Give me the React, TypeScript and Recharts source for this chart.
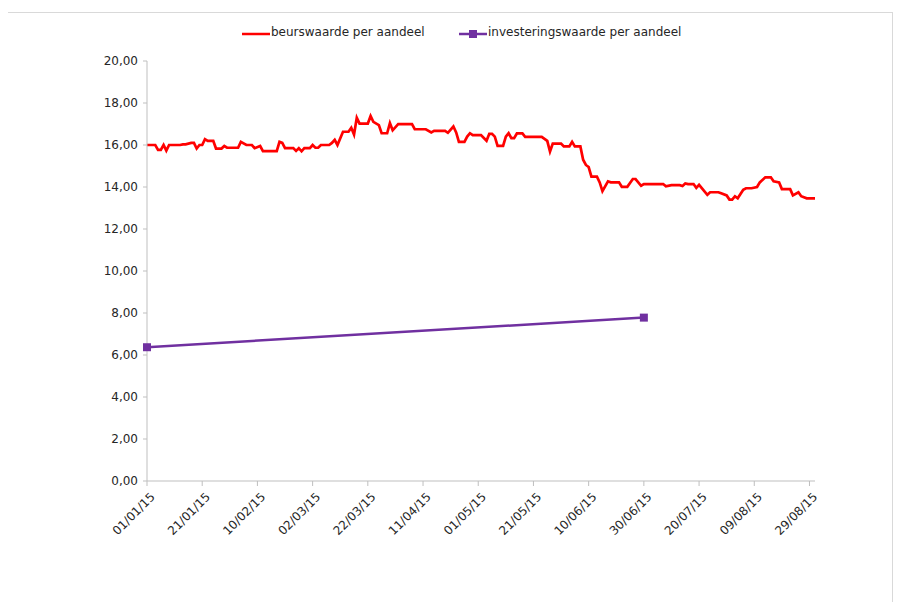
import React from "react";
import { LineChart, Line, XAxis, YAxis, Legend } from "recharts";

const datums = [
  "2015-01-01", "2015-01-04", "2015-01-05", "2015-01-06", "2015-01-07", "2015-01-08", "2015-01-09",
  "2015-01-13", "2015-01-14", "2015-01-15", "2015-01-17", "2015-01-18", "2015-01-19", "2015-01-20",
  "2015-01-21", "2015-01-22", "2015-01-23", "2015-01-25", "2015-01-26", "2015-01-28", "2015-01-29",
  "2015-01-30", "2015-02-03", "2015-02-04", "2015-02-06", "2015-02-08", "2015-02-09", "2015-02-11",
  "2015-02-12", "2015-02-17", "2015-02-18", "2015-02-19", "2015-02-20", "2015-02-23", "2015-02-24",
  "2015-02-25", "2015-02-26", "2015-02-27", "2015-03-01", "2015-03-02", "2015-03-03", "2015-03-04",
  "2015-03-05", "2015-03-08", "2015-03-09", "2015-03-10", "2015-03-11", "2015-03-13", "2015-03-15",
  "2015-03-16", "2015-03-17", "2015-03-18", "2015-03-19", "2015-03-22", "2015-03-23", "2015-03-24",
  "2015-03-26", "2015-03-27", "2015-03-29", "2015-03-30", "2015-03-31", "2015-04-02", "2015-04-07",
  "2015-04-08", "2015-04-12", "2015-04-14", "2015-04-15", "2015-04-19", "2015-04-20", "2015-04-22",
  "2015-04-23", "2015-04-24", "2015-04-26", "2015-04-27", "2015-04-28", "2015-04-29", "2015-05-02",
  "2015-05-04", "2015-05-05", "2015-05-06", "2015-05-07", "2015-05-08", "2015-05-10", "2015-05-11",
  "2015-05-12", "2015-05-13", "2015-05-14", "2015-05-15", "2015-05-17", "2015-05-18", "2015-05-24",
  "2015-05-26", "2015-05-27", "2015-05-28", "2015-05-31", "2015-06-01", "2015-06-03", "2015-06-04",
  "2015-06-05", "2015-06-07", "2015-06-08", "2015-06-09", "2015-06-10", "2015-06-11", "2015-06-13",
  "2015-06-14", "2015-06-15", "2015-06-17", "2015-06-18", "2015-06-21", "2015-06-22", "2015-06-24",
  "2015-06-26", "2015-06-27", "2015-06-29", "2015-06-30", "2015-07-07", "2015-07-08", "2015-07-10",
  "2015-07-13", "2015-07-14", "2015-07-15", "2015-07-16", "2015-07-18", "2015-07-19", "2015-07-20",
  "2015-07-23", "2015-07-24", "2015-07-27", "2015-07-28", "2015-07-30", "2015-07-31", "2015-08-01",
  "2015-08-02", "2015-08-03", "2015-08-05", "2015-08-06", "2015-08-08", "2015-08-10", "2015-08-11",
  "2015-08-13", "2015-08-15", "2015-08-16", "2015-08-18", "2015-08-19", "2015-08-22", "2015-08-23",
  "2015-08-25", "2015-08-26", "2015-08-28", "2015-08-31",
];

const beurswaarde = [
  16.0, 16.0, 15.77, 15.77, 16.0, 15.73, 16.0,
  16.0, 16.03, 16.03, 16.1, 16.1, 15.83, 16.0,
  16.0, 16.28, 16.2, 16.2, 15.83, 15.83, 15.95,
  15.87, 15.87, 16.15, 16.0, 16.0, 15.85, 15.95,
  15.71, 15.71, 16.15, 16.1, 15.85, 15.85, 15.72,
  15.85, 15.7, 15.85, 15.85, 16.0, 15.87, 15.87,
  16.0, 16.0, 16.1, 16.25, 16.0, 16.63, 16.63,
  16.82, 16.5, 17.3, 17.02, 17.02, 17.38, 17.1,
  16.95, 16.56, 16.56, 17.04, 16.7, 16.99, 16.99,
  16.75, 16.75, 16.6, 16.67, 16.67, 16.58, 16.88,
  16.6, 16.15, 16.15, 16.4, 16.56, 16.47, 16.47,
  16.2, 16.53, 16.53, 16.4, 15.96, 15.96, 16.4,
  16.56, 16.33, 16.33, 16.55, 16.55, 16.39, 16.39,
  16.2, 15.69, 16.07, 16.07, 15.93, 15.93, 16.15,
  15.93, 15.93, 15.3, 15.05, 14.95, 14.49, 14.49,
  14.22, 13.8, 14.27, 14.22, 14.22, 14.01, 14.01,
  14.38, 14.38, 14.06, 14.14, 14.14, 14.03, 14.09,
  14.09, 14.05, 14.17, 14.14, 14.14, 13.96, 14.1,
  13.63, 13.75, 13.75, 13.7, 13.6, 13.4, 13.4,
  13.56, 13.46, 13.87, 13.94, 13.94, 14.0, 14.22,
  14.46, 14.46, 14.27, 14.22, 13.9, 13.9, 13.6,
  13.75, 13.56, 13.46, 13.46,
];

// investeringswaarde per aandeel
const investDatums = ["2015-01-01", "2015-06-30"];
const investeringswaarde = [6.37, 7.78];

const xTickLabels = [
  "01/01/15", "21/01/15", "10/02/15", "02/03/15", "22/03/15", "11/04/15", "01/05/15",
  "21/05/15", "10/06/15", "30/06/15", "20/07/15", "09/08/15", "29/08/15",
];
const yTicks = [0, 2, 4, 6, 8, 10, 12, 14, 16, 18, 20];

const RED = "#ff0000";
const PURPLE = "#7030a0";
const AXIS = "#bfbfbf";
const FONT = "'DejaVu Sans', Verdana, sans-serif";

const START = Date.UTC(2015, 0, 1);
const isoToDay = (s: string) => {
  const [y, m, d] = s.split("-").map(Number);
  return Math.round((Date.UTC(y, m - 1, d) - START) / 86400000);
};
const labelToDay = (s: string) => {
  const [d, m] = s.split("/").map(Number);
  return Math.round((Date.UTC(2015, m - 1, d) - START) / 86400000);
};

const beursData = datums.map((d, i) => ({ dag: isoToDay(d), waarde: beurswaarde[i] }));
const investData = investDatums.map((d, i) => ({ dag: isoToDay(d), waarde: investeringswaarde[i] }));
const xTicks = xTickLabels.map(labelToDay);
const tickLabelByDay: Record<number, string> = {};
xTickLabels.forEach((l, i) => (tickLabelByDay[xTicks[i]] = l));

const SquareDot = (props: any) => {
  const { cx, cy } = props;
  if (cx == null || cy == null) return null;
  return <rect x={cx - 4} y={cy - 4} width={8} height={8} fill={PURPLE} />;
};

const XTick = (props: any) => {
  const { x, y, payload } = props;
  return (
    <g transform={`translate(${x + 3},${y + 4})`}>
      <text
        x={0}
        y={0}
        dy={8}
        textAnchor="end"
        transform="rotate(-45)"
        fontFamily={FONT}
        fontSize={12}
        fill="#262626"
      >
        {tickLabelByDay[payload.value]}
      </text>
    </g>
  );
};

const LegendContent = () => (
  <div style={{ position: "relative", height: 24, fontFamily: FONT, fontSize: 12, color: "#262626" }}>
    <svg style={{ position: "absolute", left: 242, top: 8 }} width={28} height={10}>
      <line x1={0} y1={5} x2={28} y2={5} stroke={RED} strokeWidth={2.5} />
    </svg>
    <span style={{ position: "absolute", left: 271, top: 4 }}>beurswaarde per aandeel</span>
    <svg style={{ position: "absolute", left: 459, top: 8 }} width={28} height={10}>
      <line x1={0} y1={5} x2={28} y2={5} stroke={PURPLE} strokeWidth={2.5} />
      <rect x={10} y={1} width={8} height={8} fill={PURPLE} />
    </svg>
    <span style={{ position: "absolute", left: 488, top: 4 }}>investeringswaarde per aandeel</span>
  </div>
);

export default function App() {
  return (
    <div
      style={{
        position: "relative",
        margin: "4px 0 0 -8px",
        width: 892,
        height: 600,
        borderTop: "1px solid #d9d9d9",
        borderRight: "1px solid #d9d9d9",
        background: "#fff",
      }}
    >
      <LineChart
        width={892}
        height={589}
        margin={{ top: 24, right: 77, left: 80, bottom: 51 }}
        style={{ fontFamily: FONT }}
      >
        <Legend
          verticalAlign="top"
          content={<LegendContent />}
          wrapperStyle={{ position: "absolute", left: 0, top: 8, width: 892 }}
        />
        <XAxis
          dataKey="dag"
          type="number"
          domain={[0, 242]}
          ticks={xTicks}
          interval={0}
          allowDuplicatedCategory={false}
          stroke={AXIS}
          tickSize={5}
          tick={<XTick />}
          height={70}
        />
        <YAxis
          type="number"
          domain={[0, 20]}
          ticks={yTicks}
          interval={0}
          width={67}
          stroke={AXIS}
          tickSize={4}
          tickMargin={5}
          tickFormatter={(v: number) => v.toFixed(2).replace(".", ",")}
          tick={{ fontFamily: FONT, fontSize: 12, fill: "#262626" }}
        />
        <Line
          data={beursData}
          dataKey="waarde"
          type="linear"
          stroke={RED}
          strokeWidth={2.7}
          dot={false}
          isAnimationActive={false}
        />
        <Line
          data={investData}
          dataKey="waarde"
          type="linear"
          stroke={PURPLE}
          strokeWidth={2.5}
          dot={<SquareDot />}
          isAnimationActive={false}
        />
      </LineChart>
    </div>
  );
}
